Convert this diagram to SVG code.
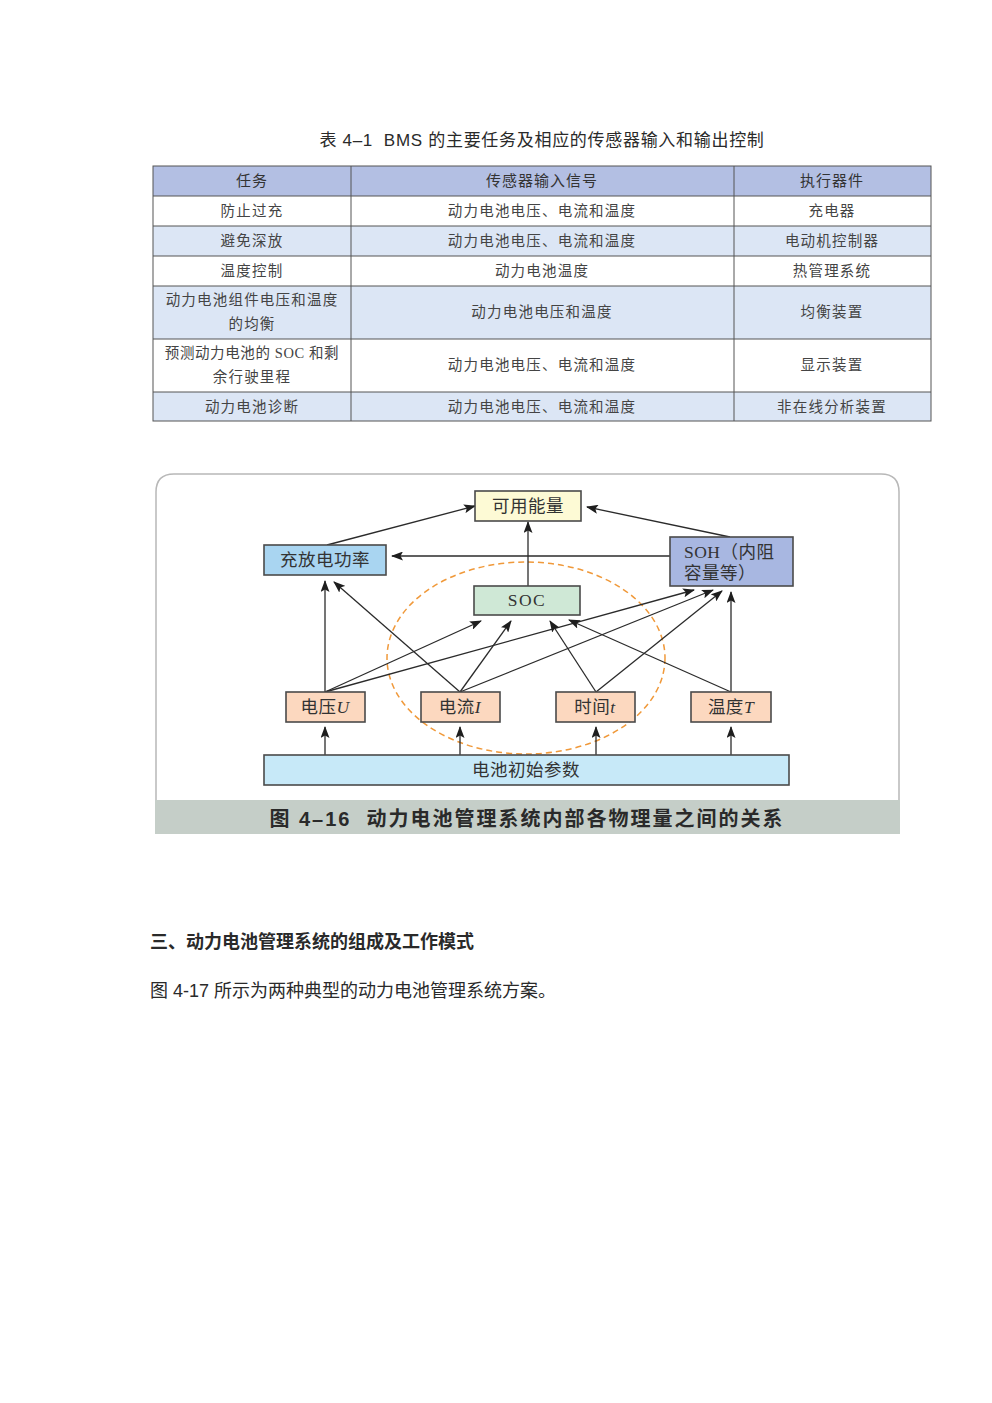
<svg xmlns="http://www.w3.org/2000/svg" width="992" height="1403" viewBox="0 0 992 1403">
<style>
.sans{font-family:"Liberation Sans","Noto Sans CJK SC",sans-serif;fill:#2a2a2a}
.cell{font-family:"Liberation Serif","Noto Sans CJK SC",serif;font-size:14.5px;fill:#444;letter-spacing:1.2px;text-anchor:middle}
.hdr{font-family:"Liberation Sans","Noto Sans CJK SC",sans-serif;font-size:15px;fill:#333;letter-spacing:1px;text-anchor:middle}
.grid{stroke:#555;stroke-width:1;fill:none}
.box{stroke:#4a4a4a;stroke-width:1.6}
.lbl{font-family:"Liberation Serif","Noto Sans CJK SC",serif;font-size:17.5px;fill:#333;letter-spacing:0.5px}
.mid{text-anchor:middle}
.conn line{stroke:#2b2b2b;stroke-width:1.3;marker-end:url(#ah)}
</style>
<defs>
<marker id="ah" markerUnits="userSpaceOnUse" markerWidth="12" markerHeight="9" refX="11" refY="4.5" orient="auto">
<path d="M0,0 L12,4.5 L0,9 L2.5,4.5 z" fill="#1e1e1e"/>
</marker>
</defs>
<rect width="992" height="1403" fill="#ffffff"/>

<!-- Table title -->
<text class="sans" x="542" y="146" font-size="17" text-anchor="middle" letter-spacing="0.7" xml:space="preserve">表 4–1  BMS 的主要任务及相应的传感器输入和输出控制</text>

<!-- Table -->
<g id="table">
<rect x="153" y="166" width="778" height="30" fill="#b3bfe3"/>
<rect x="153" y="226" width="778" height="30" fill="#dce6f5"/>
<rect x="153" y="286" width="778" height="53" fill="#dce6f5"/>
<rect x="153" y="392" width="778" height="29" fill="#dce6f5"/>
<rect x="153" y="166" width="778" height="255" class="grid" stroke-width="1.3"/>
<line class="grid" x1="153" y1="196" x2="931" y2="196"/>
<line class="grid" x1="153" y1="226" x2="931" y2="226" stroke="#8a97b0"/>
<line class="grid" x1="153" y1="256" x2="931" y2="256" stroke="#8a97b0"/>
<line class="grid" x1="153" y1="286" x2="931" y2="286" stroke="#8a97b0"/>
<line class="grid" x1="153" y1="339" x2="931" y2="339" stroke="#8a97b0"/>
<line class="grid" x1="153" y1="392" x2="931" y2="392" stroke="#8a97b0"/>
<line class="grid" x1="351" y1="166" x2="351" y2="421"/>
<line class="grid" x1="734" y1="166" x2="734" y2="421"/>
<text class="hdr" x="252" y="186">任务</text>
<text class="hdr" x="542" y="186">传感器输入信号</text>
<text class="hdr" x="832" y="186">执行器件</text>
<text class="cell" x="252" y="216">防止过充</text>
<text class="cell" x="542" y="216">动力电池电压、电流和温度</text>
<text class="cell" x="832" y="216">充电器</text>
<text class="cell" x="252" y="246">避免深放</text>
<text class="cell" x="542" y="246">动力电池电压、电流和温度</text>
<text class="cell" x="832" y="246">电动机控制器</text>
<text class="cell" x="252" y="276">温度控制</text>
<text class="cell" x="542" y="276">动力电池温度</text>
<text class="cell" x="832" y="276">热管理系统</text>
<text class="cell" x="252" y="305">动力电池组件电压和温度</text>
<text class="cell" x="252" y="329">的均衡</text>
<text class="cell" x="542" y="317">动力电池电压和温度</text>
<text class="cell" x="832" y="317">均衡装置</text>
<text class="cell" x="252" y="358" style="letter-spacing:0.6px">预测动力电池的 SOC 和剩</text>
<text class="cell" x="252" y="382">余行驶里程</text>
<text class="cell" x="542" y="370">动力电池电压、电流和温度</text>
<text class="cell" x="832" y="370">显示装置</text>
<text class="cell" x="252" y="412">动力电池诊断</text>
<text class="cell" x="542" y="412">动力电池电压、电流和温度</text>
<text class="cell" x="832" y="412">非在线分析装置</text>
</g>

<!-- Figure frame -->
<g id="frame">
<path d="M156,834 L156,492 Q156,474 174,474 L881,474 Q899,474 899,492 L899,834" fill="#ffffff" stroke="#b8b8b8" stroke-width="1.5"/>
<rect x="155" y="800" width="745" height="34" fill="#c5cec8"/>
<text class="sans" x="527" y="826" font-size="20" font-weight="bold" text-anchor="middle" fill="#333" letter-spacing="2" xml:space="preserve">图 4–16  动力电池管理系统内部各物理量之间的关系</text>
</g>

<!-- dashed ellipse -->
<ellipse id="soc-region" cx="526" cy="658" rx="139" ry="96" fill="none" stroke="#f0993a" stroke-width="1.5" stroke-dasharray="6,4"/>

<!-- connectors -->
<g id="connectors" class="conn">
<line x1="327" y1="545" x2="475" y2="506"/>
<line x1="730" y1="537" x2="587" y2="507"/>
<line x1="528" y1="586" x2="528" y2="522"/>
<line x1="670" y1="556" x2="392" y2="556"/>
<line x1="325" y1="692" x2="325" y2="581"/>
<line x1="460" y1="692" x2="334" y2="582"/>
<line x1="325" y1="692" x2="481" y2="621"/>
<line x1="325" y1="692" x2="694" y2="590"/>
<line x1="460" y1="692" x2="511" y2="621"/>
<line x1="460" y1="692" x2="713" y2="590"/>
<line x1="596" y1="692" x2="550" y2="621"/>
<line x1="596" y1="692" x2="722" y2="591"/>
<line x1="731" y1="692" x2="569" y2="620"/>
<line x1="731" y1="692" x2="731" y2="592"/>
<line x1="325" y1="755" x2="325" y2="727"/>
<line x1="460" y1="755" x2="460" y2="727"/>
<line x1="596" y1="755" x2="596" y2="727"/>
<line x1="731" y1="755" x2="731" y2="727"/>
</g>

<!-- nodes -->
<g id="node-energy">
<rect class="box" x="475" y="491" width="106" height="30" fill="#fdfad5"/>
<text class="lbl mid" x="528" y="512">可用能量</text>
</g>
<g id="node-power">
<rect class="box" x="264" y="545" width="122" height="30" fill="#a9d5f1"/>
<text class="lbl mid" x="325" y="566">充放电功率</text>
</g>
<g id="node-soh">
<rect class="box" x="670" y="537" width="123" height="49" fill="#a8b7e1"/>
<text class="lbl" x="684" y="558">SOH（内阻</text>
<text class="lbl" x="684" y="579">容量等）</text>
</g>
<g id="node-soc">
<rect class="box" x="474" y="586" width="106" height="29" fill="#cfe8d6"/>
<text class="lbl mid" x="527" y="606" style="letter-spacing:1.5px">SOC</text>
</g>
<g id="node-u">
<rect class="box" x="286" y="692" width="79" height="30" fill="#fcd8bf"/>
<text class="lbl mid" x="325" y="713">电压<tspan font-style="italic">U</tspan></text>
</g>
<g id="node-i">
<rect class="box" x="421" y="692" width="79" height="30" fill="#fcd8bf"/>
<text class="lbl mid" x="460" y="713">电流<tspan font-style="italic">I</tspan></text>
</g>
<g id="node-t">
<rect class="box" x="556" y="692" width="79" height="30" fill="#fcd8bf"/>
<text class="lbl mid" x="595" y="713">时间<tspan font-style="italic">t</tspan></text>
</g>
<g id="node-temp">
<rect class="box" x="691" y="692" width="80" height="30" fill="#fcd8bf"/>
<text class="lbl mid" x="731" y="713">温度<tspan font-style="italic">T</tspan></text>
</g>
<g id="node-init">
<rect class="box" x="264" y="755" width="525" height="30" fill="#c7e9f8"/>
<text class="lbl mid" x="526" y="776">电池初始参数</text>
</g>

<!-- body text -->
<text class="sans" x="150" y="948" font-size="18" font-weight="bold">三、动力电池管理系统的组成及工作模式</text>
<text class="sans" x="150" y="997" font-size="18">图 4-17 所示为两种典型的动力电池管理系统方案。</text>
</svg>
